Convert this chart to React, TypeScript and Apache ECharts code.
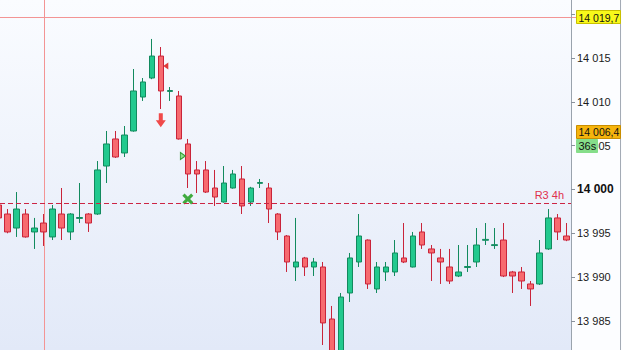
import React, { useEffect, useRef } from "react";
import * as echarts from "echarts";

// OHLC values (index 0 is the partial candle at the left edge)
const opens = [
  13998.23, 13997.2, 13995.6, 13997.2, 13995.15, 13996.17, 13994.58, 13997.2, 13995.15, 13996.7,
  13997.2, 13997.2, 14002.68, 14005.77, 14004.17, 14006.68, 14010.56, 14012.73, 14015.24, 14011.2,
  14010.68, 14005.2, 14002.23, 14002.23, 14000.17, 13998.57, 14000.17, 14001.2, 13998.57, 14000.7,
  14000.17, 13997.2, 13994.69, 13991.15, 13992.18, 13991.15, 13991.15, 13985.21, 13980.5, 13988.18,
  13991.72, 13994.23, 13988.64, 13990.58, 13990.58, 13992.18, 13991.15, 13995.15, 13993.21, 13992.18,
  13991.15, 13990.12, 13991.1, 13991.72, 13994.2, 13993.6, 13994.23, 13990.58, 13990.58, 13989.21,
  13989.21, 13993.21, 13996.75, 13994.69,
];
const closes = [
  13996.75, 13995.15, 13997.77, 13994.58, 13995.6, 13995.15, 13997.77, 13995.6, 13997.2, 13996.8,
  13996.17, 14002.23, 14005.2, 14003.71, 14006.22, 14011.25, 14012.28, 14015.24, 14011.25, 14011.3,
  14005.77, 14001.77, 14001.77, 13999.71, 13999.14, 14000.74, 14001.77, 13998.12, 14000.17, 14000.8,
  13997.77, 13995.15, 13991.72, 13991.72, 13991.15, 13991.72, 13984.76, 13980.5, 13987.72, 13992.18,
  13994.69, 13989.21, 13991.15, 13991.15, 13992.75, 13991.72, 13994.69, 13993.66, 13992.75, 13991.72,
  13989.55, 13990.58, 13991.2, 13993.66, 13994.3, 13993.7, 13990.12, 13990.12, 13989.55, 13988.64,
  13992.75, 13996.75, 13995.15, 13994.23,
];
const lows = [
  13995.9, 13995.0, 13994.58, 13994.5, 13993.21, 13993.55, 13994.23, 13994.23, 13994.23, 13996.17,
  13995.15, 13997.1, 14000.74, 14003.6, 14003.71, 14006.6, 14010.11, 14012.6, 14009.19, 14010.11,
  14005.7, 14000.17, 13999.6, 13999.6, 13998.12, 13998.5, 14000.1, 13997.2, 13998.12, 14000.17,
  13996.17, 13994.23, 13990.58, 13989.55, 13990.12, 13990.12, 13982.24, 13978.0, 13978.0, 13987.15,
  13991.15, 13988.64, 13988.18, 13989.55, 13990.12, 13991.6, 13991.1, 13993.21, 13989.55, 13989.21,
  13989.21, 13990.0, 13990.58, 13991.15, 13993.66, 13993.21, 13990.0, 13988.18, 13988.64, 13986.7,
  13989.1, 13993.1, 13994.23, 13994.1,
];
const highs = [
  13998.6, 13997.77, 13999.71, 13997.77, 13996.75, 13997.2, 13998.23, 14000.17, 13997.3, 14000.74,
  13997.3, 14003.25, 14006.68, 14006.68, 14007.25, 14013.76, 14012.73, 14017.19, 14016.27, 14011.7,
  14011.25, 14005.77, 14003.25, 14003.25, 14002.23, 14002.68, 14002.23, 14002.68, 14000.3, 14001.2,
  14000.74, 13997.3, 13994.8, 13996.75, 13992.3, 13992.18, 13991.72, 13986.7, 13988.18, 13992.75,
  13997.2, 13994.3, 13991.72, 13991.72, 13994.23, 13996.17, 13995.15, 13996.17, 13993.66, 13993.21,
  13993.21, 13993.66, 13993.66, 13995.6, 13996.17, 13995.6, 13996.17, 13990.7, 13991.15, 13989.55,
  13994.23, 13997.77, 13997.2, 13996.17,
];
const categories = opens.map((_, i) => String(i));

// Visible price range of the plot and tick step
const yMin = 13981.67;
const yMax = 14021.64;
const yStep = 5;
// tick labels hidden under the price boxes
const coveredTicks = [14020];

// Levels and annotations
const highLevel = 14019.7;
const lastPrice = 14006.4;
const r3Level = 13998.45;
const r3Label = "R3 4h";
const crosshairIndex = 5;
const timerText = "36s";

// Signal markers: [candle index, price]
const sellArrow = [[18, 14007.9]];
const redTriangle = [[18, 14014.1]];
const greenTriangle = [[21, 14003.83]];
const greenCross = [[21, 13998.92]];

const fmt = (v: number, dec = 0) => {
  const s = v.toFixed(dec);
  const [ip, fp] = s.split(".");
  const withSep = ip.replace(/\B(?=(\d{3})+(?!\d))/g, " ");
  return fp ? `${withSep},${fp}` : withSep;
};

const FONT = "Liberation Sans, Arial, sans-serif";
const UP = "#22c98e";
const UP_B = "#128a5e";
const DOWN = "#f76a6f";
const DOWN_B = "#c9243a";
const GUIDE = "#f39494";

export default function App() {
  const ref = useRef<HTMLDivElement>(null);
  useEffect(() => {
    if (!ref.current) return;
    const chart = echarts.init(ref.current, undefined, { renderer: "svg" });
    const data = opens.map((o, i) => [o, closes[i], lows[i], highs[i]]);
    const toCat = (arr: number[][]) => arr.map(([i, v]) => [String(i), v]);
    const bg = {
      type: "rect",
      z: -10,
      silent: true,
      shape: { x: 0, y: 0, width: 571, height: 350 },
      style: {
        fill: new echarts.graphic.LinearGradient(0, 0, 0, 1, [
          { offset: 0, color: "#fafcff" },
          { offset: 1, color: "#e2e9f8" },
        ]),
      },
    };

    chart.setOption({
      animation: false,
      textStyle: { fontFamily: FONT },
      grid: { left: -6, right: 51, top: 0, bottom: 0, containLabel: false, outerBoundsMode: "none" },
      xAxis: {
        type: "category",
        data: categories,
        boundaryGap: true,
        axisLine: { show: false },
        axisTick: { show: false },
        axisLabel: { show: false },
        splitLine: { show: false },
      },
      yAxis: {
        type: "value",
        position: "right",
        min: yMin,
        max: yMax,
        minInterval: yStep,
        maxInterval: yStep,
        splitNumber: 8,
        axisLine: { show: true, lineStyle: { color: "#9aa3ad", width: 1 } },
        axisTick: { show: true, length: 4, lineStyle: { color: "#8a929c" } },
        splitLine: { show: false },
        axisLabel: {
          margin: 6,
          color: "#1a1a1a",
          fontSize: 11,
          showMinLabel: false,
          showMaxLabel: false,
          formatter: (v: number) =>
            coveredTicks.includes(v) ? "" : v === 14000 ? `{b|${fmt(v)}}` : fmt(v),
          rich: { b: { fontWeight: "bold", fontSize: 12, color: "#111" } },
        },
      },
      graphic: [bg],
      series: [
        {
          type: "candlestick",
          data,
          barWidth: 6,
          z: 3,
          itemStyle: {
            color: UP,
            color0: DOWN,
            borderColor: UP_B,
            borderColor0: DOWN_B,
            borderWidth: 1,
          },
        },
        {
          type: "scatter",
          data: toCat(sellArrow),
          symbol: "path://M3,0 L7,0 L7,7 L10,7 L5,14 L0,7 L3,7 Z",
          symbolSize: [10, 14],
          itemStyle: { color: "#f04a4a", opacity: 1 },
          z: 5,
        },
        {
          type: "scatter",
          data: toCat(redTriangle),
          symbol: "triangle",
          symbolRotate: 90,
          symbolSize: [7, 5],
          symbolOffset: [5, 0],
          itemStyle: { color: "#e03a3a", opacity: 1 },
          z: 5,
        },
        {
          type: "scatter",
          data: toCat(greenTriangle),
          symbol: "triangle",
          symbolRotate: -90,
          symbolSize: [7, 5],
          symbolOffset: [-5, 0],
          itemStyle: { color: "#8ee08e", borderColor: "#2f9e2f", borderWidth: 1, opacity: 1 },
          z: 5,
        },
        {
          type: "scatter",
          data: toCat(greenCross),
          symbol:
            "path://M0,2 L2,0 L5,3 L8,0 L10,2 L7,5 L10,8 L8,10 L5,7 L2,10 L0,8 L3,5 Z",
          symbolSize: [11, 11],
          itemStyle: { color: "#3faa3f", opacity: 1 },
          z: 5,
        },
      ],
    });

    const py = (v: number) => chart.convertToPixel({ yAxisIndex: 0 }, v) as number;
    const yHigh = py(highLevel);
    const yLast = py(lastPrice);
    const yR3 = Math.round(py(r3Level)) + 0.5;
    const xCross =
      Math.round(chart.convertToPixel({ xAxisIndex: 0 }, String(crosshairIndex)) as number) + 0.5;
    const yHighS = Math.round(yHigh) + 0.5;
    const axisX = 571;
    const boxX = axisX + 5;
    const boxH = 13;
    const txt = (text: string, x: number, y: number, size = 10.5) => ({
      type: "text",
      z: 101,
      silent: true,
      x,
      y,
      style: { text, fill: "#111", fontSize: size, fontFamily: FONT, verticalAlign: "middle" },
    });
    chart.setOption({
      graphic: [
        bg,
        {
          type: "line",
          z: -5,
          silent: true,
          shape: { x1: 0, y1: yHighS, x2: boxX, y2: yHighS },
          style: { stroke: GUIDE, lineWidth: 1 },
        },
        {
          type: "line",
          z: -5,
          silent: true,
          shape: { x1: xCross, y1: 0, x2: xCross, y2: 350 },
          style: { stroke: GUIDE, lineWidth: 1 },
        },
        {
          type: "line",
          z: 50,
          silent: true,
          shape: { x1: 0, y1: yR3, x2: axisX, y2: yR3 },
          style: { stroke: "#cc2444", lineWidth: 1, lineDash: [5, 3] },
        },
        {
          type: "text",
          z: 50,
          silent: true,
          x: axisX - 7,
          y: yR3 - 3,
          style: {
            text: r3Label,
            fill: "#e0304d",
            fontSize: 11,
            fontFamily: FONT,
            align: "right",
            verticalAlign: "bottom",
          },
        },
        {
          type: "line",
          z: 100,
          silent: true,
          shape: { x1: 620.5, y1: 0, x2: 620.5, y2: 350 },
          style: { stroke: "#a4abb5", lineWidth: 1 },
        },
        {
          type: "rect",
          z: 100,
          silent: true,
          shape: { x: boxX + 0.5, y: Math.round(yHigh - boxH / 2) + 0.5, width: 44, height: boxH },
          style: { fill: "#f8f81a", stroke: "#c9c000", lineWidth: 1 },
        },
        txt(fmt(highLevel, 1), boxX + 2.5, Math.round(yHigh) + 1),
        {
          type: "rect",
          z: 100,
          silent: true,
          shape: { x: boxX + 0.5, y: Math.round(yLast - boxH / 2) - 2 + 0.5, width: 44, height: boxH },
          style: { fill: "#f6b40c", stroke: "#c98e00", lineWidth: 1 },
        },
        txt(fmt(lastPrice, 1), boxX + 2.5, Math.round(yLast) - 1),
        {
          type: "rect",
          z: 100,
          silent: true,
          shape: { x: boxX + 0.5, y: Math.round(yLast + boxH / 2) - 1 + 0.5, width: 21, height: boxH },
          style: { fill: "#86de8a", stroke: "#86de8a", lineWidth: 1 },
        },
        txt(timerText, boxX + 2.5, Math.round(yLast + boxH) - 0.5, 11),
      ],
    });

    return () => chart.dispose();
  }, []);

  return (
    <div
      ref={ref}
      style={{ position: "fixed", left: 0, top: 0, width: 622, height: 350, background: "#fcfdff" }}
    />
  );
}
